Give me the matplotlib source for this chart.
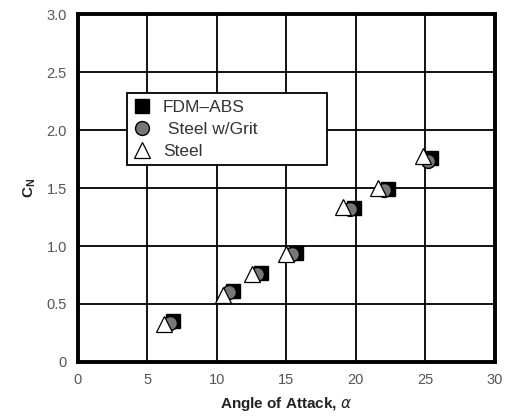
import matplotlib
matplotlib.use('Agg')
import matplotlib.pyplot as plt

# normal force coefficient vs angle of attack
fdm_alpha = [6.85, 11.15, 13.2, 15.7, 19.9, 22.3, 25.4]
fdm_cn = [0.35, 0.61, 0.77, 0.94, 1.33, 1.49, 1.76]
grit_alpha = [6.6, 10.9, 12.9, 15.4, 19.6, 22.0, 25.2]
grit_cn = [0.34, 0.60, 0.76, 0.93, 1.32, 1.48, 1.73]
steel_alpha = [6.2, 10.45, 12.55, 15.0, 19.1, 21.6, 24.8]
steel_cn = [0.33, 0.58, 0.76, 0.93, 1.34, 1.50, 1.78]

xticks = [0, 5, 10, 15, 20, 25, 30]
yticks = [0, 0.5, 1.0, 1.5, 2.0, 2.5, 3.0]
ytick_labels = ['0', '0.5', '1.0', '1.5', '2.0', '2.5', '3.0']

plt.rcParams['font.family'] = ['Liberation Sans', 'DejaVu Sans']

fig = plt.figure(figsize=(5.08, 4.17), dpi=100)
ax = fig.add_axes([0.1535, 0.132, 0.8205, 0.834])

ax.plot(fdm_alpha, fdm_cn, 's', ms=10, mfc='black', mec='black', mew=1,
        label='FDM\u2013ABS', zorder=3)
ax.plot(grit_alpha, grit_cn, 'o', ms=10, mfc='#777777', mec='black', mew=1,
        label=' Steel w/Grit' + ' ' * 13, zorder=4)
ax.plot(steel_alpha, steel_cn, '^', ms=12, mfc='white', mec='black', mew=0.9,
        label='Steel', zorder=5)

ax.set_xlim(0, 30)
ax.set_ylim(0, 3.0)
ax.set_xticks(xticks)
ax.set_yticks(yticks)
ax.set_yticklabels(ytick_labels)
ax.tick_params(length=0, labelsize=10.5, labelcolor='#555555', pad=8)
ax.grid(True, color='black', lw=1.3)
ax.set_axisbelow(True)
for s in ax.spines.values():
    s.set_linewidth(2.8)

ax.set_xlabel('Angle of Attack, $\\alpha$', fontsize=11, fontweight='bold',
              color='#222222', labelpad=6)
ax.set_ylabel('C$_\\mathregular{N}$', fontsize=11, fontweight='bold',
              color='#222222', labelpad=6)

leg = ax.legend(loc='upper left', bbox_to_anchor=(0.118, 0.772), frameon=True,
                fancybox=False, edgecolor='black', framealpha=1,
                fontsize=12.5, handlelength=1.0, handletextpad=0.7,
                borderpad=0.35, labelspacing=0.4, borderaxespad=0)
leg.get_frame().set_linewidth(1.3)
for t in leg.get_texts():
    t.set_color('#333333')

fig.savefig('out.png', dpi=100)
